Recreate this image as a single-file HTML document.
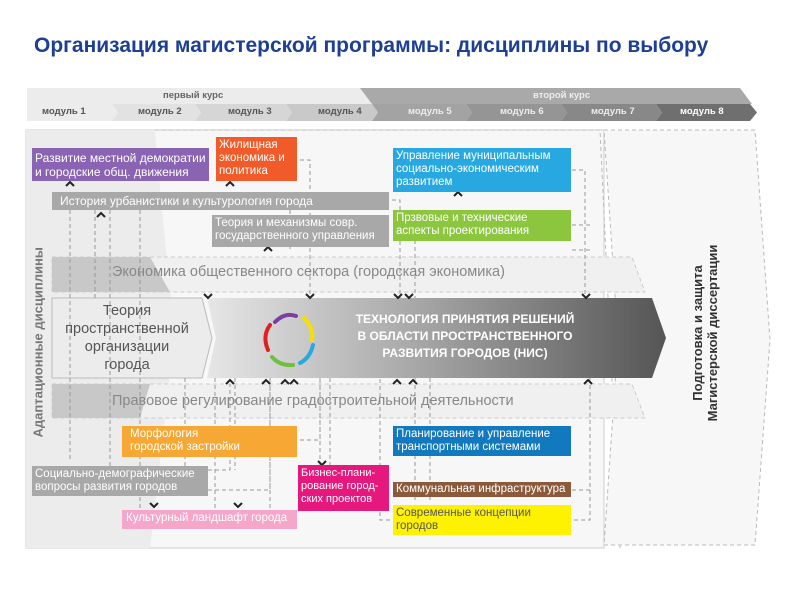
<!DOCTYPE html>
<html><head><meta charset="utf-8"><style>
body{margin:0;width:800px;height:600px;background:#fff;position:relative;overflow:hidden;font-family:"Liberation Sans","DejaVu Sans",sans-serif}
.b{position:absolute;color:#fff;font-size:11.5px;line-height:13px;padding:2px 3px;box-sizing:border-box;white-space:nowrap;overflow:hidden}
.t{position:absolute;white-space:nowrap}
</style></head><body>
<div class="t" style="left:34px;top:34px;font-size:21px;font-weight:bold;color:#1d3f94">Организация магистерской программы: дисциплины по выбору</div>
<svg width="800" height="600" style="position:absolute;left:0;top:0">
<defs>
<linearGradient id="g" x1="0" x2="1"><stop offset="0" stop-color="#e6e6e6"/><stop offset="0.45" stop-color="#a8a8a8"/><stop offset="1" stop-color="#555"/></linearGradient>
</defs>
<rect x="27" y="88" width="345" height="16" fill="#ececec"/>
<polygon points="360,88 740,88 752,104 372,104" fill="#a9a9a9"/>
<polygon points="27,104 112,104 118,112.5 112,121 27,121" fill="#ececec"/>
<polygon points="112,104 195,104 201,112.5 195,121 112,121 118,112.5" fill="#e2e2e2"/>
<polygon points="195,104 286,104 292,112.5 286,121 195,121 201,112.5" fill="#d6d6d6"/>
<polygon points="286,104 372,104 378,112.5 372,121 286,121 292,112.5" fill="#c9c9c9"/>
<polygon points="372,104 466,104 472,112.5 466,121 372,121 378,112.5" fill="#a3a3a3"/>
<polygon points="466,104 561,104 567,112.5 561,121 466,121 472,112.5" fill="#959595"/>
<polygon points="561,104 656,104 662,112.5 656,121 561,121 567,112.5" fill="#888"/>
<polygon points="656,104 750,104 757,112.5 750,121 656,121 662,112.5" fill="#6f6f6f"/>
<rect x="26" y="130" width="578" height="418" fill="#f7f7f7" stroke="#ccc"/>
<path d="M26,130 L155,130 Q165,250 175,330 L150,548 L26,548 Z" fill="#ececec"/>
<path d="M155,130 L600,130 L620,548" fill="none" stroke="#bbb" stroke-dasharray="4,3"/>
<polygon points="604,130 755,130 770,340 755,545 604,545 618,340" fill="#f7f7f7" stroke="#bbb" stroke-dasharray="4,3"/>
<polygon points="52,257 632,257 645,292 52,292" fill="#f0f0f0" stroke="#ccc" stroke-dasharray="4,3"/>
<polygon points="52,257 150,257 170,292 52,292" fill="#c8c8c8"/>
<polygon points="52,384 632,384 645,418 52,418" fill="#f0f0f0" stroke="#ccc" stroke-dasharray="4,3"/>
<polygon points="52,384 150,384 140,418 52,418" fill="#c8c8c8"/>
<polygon points="52,298 202,298 212,338 202,378 52,378" fill="#ececec" stroke="#bbb"/>
<polygon points="207,298 652,298 666,338 652,378 207,378 216,338" fill="url(#g)"/>
<g stroke="#999" stroke-dasharray="4,3" fill="none">
<path d="M70,210 V460 M95,210 V298 M110,210 V470 M140,210 V520 M290,210 V250 M300,160 H310 V298 M385,200 H400 V298 M415,240 V298 M572,170 H585 V298 M572,225 H590 M572,250 H590"/>
<path d="M185,378 V470 M208,470 H230 V384 M208,490 H270 V378 M215,378 V520 M300,440 H320 V378 M270,378 V510 M235,378 V470 M320,378 V470 M330,378 V470 M390,520 H380 V378 M415,378 V500 M430,378 V500 M590,378 V520 H572 M572,490 H590"/>
</g>
<g fill="none" stroke="#222" stroke-width="2">
<path d="M66,186 l4,-4 l4,4 M97,217 l4,-4 l4,4 M226,186 l4,-4 l4,4 M264,251 l4,-4 l4,4 M454,196 l4,-4 l4,4"/>
<path d="M204,294 l4,4 l4,-4 M306,294 l4,4 l4,-4 M394,294 l4,4 l4,-4 M405,294 l4,4 l4,-4 M582,294 l4,4 l4,-4"/>
<path d="M226,384 l4,-4 l4,4 M262,384 l4,-4 l4,4 M281,384 l4,-4 l4,4 M290,384 l4,-4 l4,4 M393,384 l4,-4 l4,4 M409,384 l4,-4 l4,4 M584,384 l4,-4 l4,4"/>
<path d="M318,461 l4,4 l4,-4 M203,486 l-4,-4 l4,-4 M150,503 l4,4 l4,-4 M234,503 l4,4 l4,-4"/>
</g>
<g fill="none" stroke-width="4" stroke-linecap="round">
<path d="M275,322 Q285,312 296,316" stroke="#7a3fa0"/>
<path d="M304,318 Q314,328 312,340" stroke="#f5e000"/>
<path d="M313,345 Q310,358 300,363" stroke="#2aa9e0"/>
<path d="M293,365 Q280,366 272,357" stroke="#70c040"/>
<path d="M268,350 Q262,336 270,325" stroke="#e02020"/>
</g>
</svg>
<div class="t" style="left:42px;top:106px;font-size:9.5px;font-weight:bold;color:#555">модуль 1</div>
<div class="t" style="left:138px;top:106px;font-size:9.5px;font-weight:bold;color:#555">модуль 2</div>
<div class="t" style="left:228px;top:106px;font-size:9.5px;font-weight:bold;color:#555">модуль 3</div>
<div class="t" style="left:318px;top:106px;font-size:9.5px;font-weight:bold;color:#555">модуль 4</div>
<div class="t" style="left:408px;top:106px;font-size:9.5px;font-weight:bold;color:#eee">модуль 5</div>
<div class="t" style="left:500px;top:106px;font-size:9.5px;font-weight:bold;color:#eee">модуль 6</div>
<div class="t" style="left:591px;top:106px;font-size:9.5px;font-weight:bold;color:#eee">модуль 7</div>
<div class="t" style="left:680px;top:106px;font-size:9.5px;font-weight:bold;color:#fff">модуль 8</div>
<div class="t" style="left:163px;top:90px;font-size:9.5px;font-weight:bold;color:#666">первый курс</div>
<div class="t" style="left:533px;top:90px;font-size:9.5px;font-weight:bold;color:#eee">второй курс</div>

<div class="b" style="left:32px;top:148px;width:177px;height:33px;background:#8a63b2;padding-top:3px;font-size:12px;line-height:14px">Развитие местной демократии<br>и городские общ. движения</div>
<div class="b" style="left:216px;top:137px;width:81px;height:44px;background:#f15a29">Жилищная<br>экономика и<br>политика</div>
<div class="b" style="left:52px;top:192px;width:337px;height:18px;background:#a8a8a8;padding-left:8px;font-size:12px;line-height:14px">История урбанистики и культурология города</div>
<div class="b" style="left:212px;top:215px;width:177px;height:32px;background:#a8a8a8">Теория и механизмы совр.<br>государственного управления</div>
<div class="b" style="left:393px;top:148px;width:178px;height:44px;background:#27a8e0">Управление муниципальным<br>социально-экономическим<br>развитием</div>
<div class="b" style="left:393px;top:210px;width:178px;height:31px;background:#8cc63f">Прзвовые и технические<br>аспекты проектирования</div>
<div class="t" style="left:112px;top:264px;font-size:14.5px;color:#888">Экономика общественного сектора (городская экономика)</div>
<div class="t" style="left:112px;top:393px;font-size:14.5px;color:#888">Правовое регулирование градостроительной деятельности</div>
<div class="t" style="left:52px;top:302px;width:150px;text-align:center;font-size:14.5px;line-height:18px;color:#555;white-space:normal">Теория<br>пространственной<br>организации<br>города</div>
<div class="t" style="left:330px;top:311px;width:270px;text-align:center;font-size:12px;line-height:17px;font-weight:bold;color:#fff">ТЕХНОЛОГИЯ ПРИНЯТИЯ РЕШЕНИЙ<br>В ОБЛАСТИ ПРОСТРАНСТВЕННОГО<br>РАЗВИТИЯ ГОРОДОВ (НИС)</div>
<div class="b" style="left:122px;top:426px;width:175px;height:31px;background:#f7a734;padding-left:8px">Морфология<br>городской застройки</div>
<div class="b" style="left:32px;top:466px;width:176px;height:30px;background:#a8a8a8">Социально-демографические<br>вопросы развития городов</div>
<div class="b" style="left:298px;top:465px;width:91px;height:46px;background:#e5197d;font-size:11px;line-height:13px">Бизнес-плани-<br>рование город-<br>ских проектов</div>
<div class="b" style="left:122px;top:510px;width:175px;height:19px;background:#f4a7c9;padding-left:4px">Культурный ландшафт города</div>
<div class="b" style="left:393px;top:426px;width:178px;height:30px;background:#1279be">Планирование и управление<br>транспортными системами</div>
<div class="b" style="left:393px;top:482px;width:178px;height:15px;background:#8b5a3b;padding-top:1px">Коммунальная инфраструктура</div>
<div class="b" style="left:393px;top:505px;width:178px;height:30px;background:#fff200;color:#555">Современные концепции<br>городов</div>
<div class="t" style="left:-52px;top:340px;width:180px;text-align:center;transform:rotate(-90deg);font-size:13px;font-weight:bold;color:#777">Адаптационные дисциплины</div>
<div class="t" style="left:585px;top:318px;width:240px;text-align:center;transform:rotate(-90deg);font-size:13px;line-height:15px;font-weight:bold;color:#333">Подготовка и защита<br>Магистерской диссертации</div>
</body></html>
